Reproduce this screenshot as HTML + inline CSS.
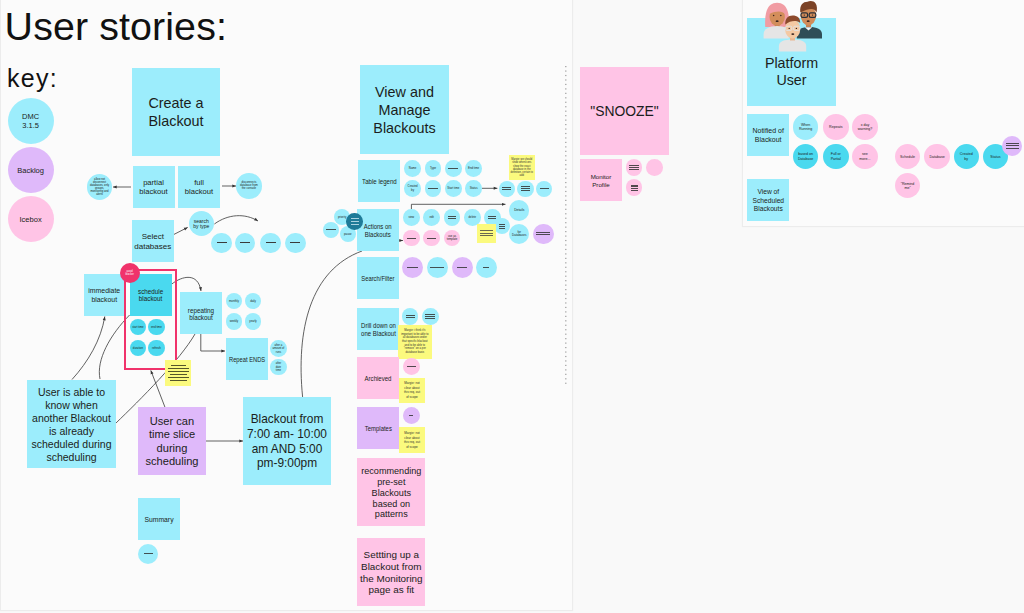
<!DOCTYPE html>
<html><head><meta charset="utf-8"><style>
html,body{margin:0;padding:0;}
body{width:1024px;height:613px;overflow:hidden;position:relative;background:#f9f9f9;font-family:"Liberation Sans",sans-serif;color:#1b1d20;}
.b span{display:inline-block;}
.b{position:absolute;display:flex;align-items:center;justify-content:center;text-align:center;overflow:visible;white-space:nowrap;}
.c{border-radius:50%;}
.d{position:absolute;}
.t{position:absolute;white-space:nowrap;color:#111;}
.fr{position:absolute;background:#fbfbfb;box-sizing:border-box;border:1px solid #ececec;box-shadow:0 0 1px #eeeeee;}
</style></head><body>
<div class="fr" style="left:0px;top:-10px;width:573px;height:621px"></div>
<div class="fr" style="left:742px;top:-10px;width:300px;height:237px"></div>
<svg class="d" style="left:0;top:0" width="1024" height="613" viewBox="0 0 1024 613">
<defs><marker id="ah" markerWidth="6" markerHeight="6" refX="4" refY="3" orient="auto" markerUnits="userSpaceOnUse"><path d="M0.3 1.5L4 3L0.3 4.5z" fill="#333"/></marker></defs>
<g fill="none" stroke="#444" stroke-width="0.85">
<path d="M131 187H113" marker-end="url(#ah)"/>
<path d="M222 186H236" marker-end="url(#ah)"/>
<path d="M173.4 234.7L187.7 227.4" marker-end="url(#ah)"/>
<path d="M214.4 224C228 214 245 213 258 221" marker-end="url(#ah)"/>
<path d="M171.8 284C182 276 198 272 201 291" marker-end="url(#ah)"/>
<path d="M200.8 334V351H225" marker-end="url(#ah)"/>
<path d="M72 379.5C88 362 101 340 104.8 316.5" marker-end="url(#ah)"/>
<path d="M100 379C96 360 110 335 129.6 315"/>
<path d="M116 423C140 400 180 360 195 334"/>
<path d="M164.9 407L150.8 370.4" marker-end="url(#ah)"/>
<path d="M206 441H243" marker-end="url(#ah)"/>
<path d="M302.6 397C296 330 310 270 362 251"/>
<path d="M399.5 240.5L403 240.5" marker-end="url(#ah)"/>
<path d="M411.4 209V204.3H505.5" marker-end="url(#ah)"/>
<path d="M482 188.3H497.4" marker-end="url(#ah)"/>
</g>
<g fill="#9a9a9a"><rect x="565.2" y="66.00" width="1.2" height="1.2"/><rect x="565.2" y="70.46" width="1.2" height="1.2"/><rect x="565.2" y="74.92" width="1.2" height="1.2"/><rect x="565.2" y="79.38" width="1.2" height="1.2"/><rect x="565.2" y="83.84" width="1.2" height="1.2"/><rect x="565.2" y="88.30" width="1.2" height="1.2"/><rect x="565.2" y="92.76" width="1.2" height="1.2"/><rect x="565.2" y="97.22" width="1.2" height="1.2"/><rect x="565.2" y="101.68" width="1.2" height="1.2"/><rect x="565.2" y="106.14" width="1.2" height="1.2"/><rect x="565.2" y="110.60" width="1.2" height="1.2"/><rect x="565.2" y="115.06" width="1.2" height="1.2"/><rect x="565.2" y="119.52" width="1.2" height="1.2"/><rect x="565.2" y="123.98" width="1.2" height="1.2"/><rect x="565.2" y="128.44" width="1.2" height="1.2"/><rect x="565.2" y="132.90" width="1.2" height="1.2"/><rect x="565.2" y="137.36" width="1.2" height="1.2"/><rect x="565.2" y="141.82" width="1.2" height="1.2"/><rect x="565.2" y="146.28" width="1.2" height="1.2"/><rect x="565.2" y="150.74" width="1.2" height="1.2"/><rect x="565.2" y="155.20" width="1.2" height="1.2"/><rect x="565.2" y="159.66" width="1.2" height="1.2"/><rect x="565.2" y="164.12" width="1.2" height="1.2"/><rect x="565.2" y="168.58" width="1.2" height="1.2"/><rect x="565.2" y="173.04" width="1.2" height="1.2"/><rect x="565.2" y="177.50" width="1.2" height="1.2"/><rect x="565.2" y="181.96" width="1.2" height="1.2"/><rect x="565.2" y="186.42" width="1.2" height="1.2"/><rect x="565.2" y="190.88" width="1.2" height="1.2"/><rect x="565.2" y="195.34" width="1.2" height="1.2"/><rect x="565.2" y="199.80" width="1.2" height="1.2"/><rect x="565.2" y="204.26" width="1.2" height="1.2"/><rect x="565.2" y="208.72" width="1.2" height="1.2"/><rect x="565.2" y="213.18" width="1.2" height="1.2"/><rect x="565.2" y="217.64" width="1.2" height="1.2"/><rect x="565.2" y="222.10" width="1.2" height="1.2"/><rect x="565.2" y="226.56" width="1.2" height="1.2"/><rect x="565.2" y="231.02" width="1.2" height="1.2"/><rect x="565.2" y="235.48" width="1.2" height="1.2"/><rect x="565.2" y="239.94" width="1.2" height="1.2"/><rect x="565.2" y="244.40" width="1.2" height="1.2"/><rect x="565.2" y="248.86" width="1.2" height="1.2"/><rect x="565.2" y="253.32" width="1.2" height="1.2"/><rect x="565.2" y="257.78" width="1.2" height="1.2"/><rect x="565.2" y="262.24" width="1.2" height="1.2"/><rect x="565.2" y="266.70" width="1.2" height="1.2"/><rect x="565.2" y="271.16" width="1.2" height="1.2"/><rect x="565.2" y="275.62" width="1.2" height="1.2"/><rect x="565.2" y="280.08" width="1.2" height="1.2"/><rect x="565.2" y="284.54" width="1.2" height="1.2"/><rect x="565.2" y="289.00" width="1.2" height="1.2"/><rect x="565.2" y="293.46" width="1.2" height="1.2"/><rect x="565.2" y="297.92" width="1.2" height="1.2"/><rect x="565.2" y="302.38" width="1.2" height="1.2"/><rect x="565.2" y="306.84" width="1.2" height="1.2"/><rect x="565.2" y="311.30" width="1.2" height="1.2"/><rect x="565.2" y="315.76" width="1.2" height="1.2"/><rect x="565.2" y="320.22" width="1.2" height="1.2"/><rect x="565.2" y="324.68" width="1.2" height="1.2"/><rect x="565.2" y="329.14" width="1.2" height="1.2"/><rect x="565.2" y="333.60" width="1.2" height="1.2"/><rect x="565.2" y="338.06" width="1.2" height="1.2"/><rect x="565.2" y="342.52" width="1.2" height="1.2"/><rect x="565.2" y="346.98" width="1.2" height="1.2"/><rect x="565.2" y="351.44" width="1.2" height="1.2"/><rect x="565.2" y="355.90" width="1.2" height="1.2"/><rect x="565.2" y="360.36" width="1.2" height="1.2"/><rect x="565.2" y="364.82" width="1.2" height="1.2"/><rect x="565.2" y="369.28" width="1.2" height="1.2"/><rect x="565.2" y="373.74" width="1.2" height="1.2"/><rect x="565.2" y="378.20" width="1.2" height="1.2"/><rect x="565.2" y="382.66" width="1.2" height="1.2"/></g>
</svg>
<div class="t" style="left:4.6px;top:3px;font-size:39.4px;line-height:46px;letter-spacing:0.1px">User stories:</div><div class="t" style="left:7px;top:63.5px;font-size:25px;line-height:28px;letter-spacing:1.3px">key:</div><div class="b c" style="left:7.6px;top:97.7px;width:46px;height:46px;background:#9cedfc;font-size:7.5px;line-height:9px;"><span style="position:relative;top:0.75px">DMC<br>3.1.5</span></div><div class="b c" style="left:7.6px;top:146.7px;width:46px;height:46px;background:#dfb9fa;font-size:7.5px;line-height:9.0px;"><span style="position:relative;top:0.75px">Backlog</span></div><div class="b c" style="left:7.6px;top:196.2px;width:46px;height:46px;background:#ffc4e6;font-size:7.5px;line-height:9.0px;"><span style="position:relative;top:0.75px">Icebox</span></div><div class="b" style="left:132px;top:68px;width:88px;height:88px;background:#9cedfc;font-size:14.4px;line-height:17.5px;"><span style="position:relative;top:0.5px;">Create a<br>Blackout</span></div><div class="b" style="left:132.5px;top:166px;width:42px;height:42px;background:#9cedfc;font-size:7.6px;line-height:8.7px;"><span style="position:relative;top:0.8px;">partial<br>blackout</span></div><div class="b" style="left:178px;top:166px;width:42px;height:42px;background:#9cedfc;font-size:7.6px;line-height:8.7px;"><span style="position:relative;top:0.8px;">full<br>blackout</span></div><div class="b c" style="left:86.8px;top:174.1px;width:25.5px;height:25.5px;background:#9cedfc;font-size:2.75px;line-height:3.05px;"><span style="position:relative;top:0.00px">allow not<br>disconnect<br>databases, only<br>groups,<br>monitoring and<br>alerts</span></div><div class="b c" style="left:236.2px;top:173.2px;width:25.5px;height:25.5px;background:#9cedfc;font-size:2.8px;line-height:3.0px;"><span style="position:relative;top:0.00px">disconnects<br>database from<br>the console</span></div><div class="b" style="left:132px;top:220px;width:41.5px;height:41.5px;background:#9cedfc;font-size:8.0px;line-height:9.6px;"><span style="position:relative;top:0.8px;">Select<br>databases</span></div><div class="b c" style="left:188.8px;top:211.1px;width:25px;height:25px;background:#9cedfc;font-size:5px;line-height:5.5px;"><span style="position:relative;top:0.50px">search<br>by type</span></div><div class="b c" style="left:211.4px;top:232.8px;width:20.5px;height:20.5px;background:#9cedfc;font-size:3px;line-height:3.5999999999999996px;"><span style="position:relative;top:0.30px"></span></div><div class="d" style="left:217px;top:242px;width:10px;height:1px;background:#3a3a3a;opacity:1.1"></div><div class="b c" style="left:234.8px;top:232.8px;width:20.5px;height:20.5px;background:#9cedfc;font-size:3px;line-height:3.5999999999999996px;"><span style="position:relative;top:0.30px"></span></div><div class="d" style="left:240px;top:242px;width:10px;height:1px;background:#3a3a3a;opacity:1.1"></div><div class="b c" style="left:260.4px;top:232.8px;width:20.5px;height:20.5px;background:#9cedfc;font-size:3px;line-height:3.5999999999999996px;"><span style="position:relative;top:0.30px"></span></div><div class="d" style="left:266px;top:242px;width:10px;height:1px;background:#3a3a3a;opacity:1.1"></div><div class="b c" style="left:285.2px;top:232.8px;width:20.5px;height:20.5px;background:#9cedfc;font-size:3px;line-height:3.5999999999999996px;"><span style="position:relative;top:0.30px"></span></div><div class="d" style="left:290px;top:242px;width:10px;height:1px;background:#3a3a3a;opacity:1.1"></div><div class="b" style="left:84px;top:274px;width:40.5px;height:41.5px;background:#9cedfc;font-size:6.9px;line-height:8.3px;"><span style="position:relative;top:0.8px;">immediate<br>blackout</span></div><div class="d" style="left:124.3px;top:268.5px;width:52.4px;height:101px;box-sizing:border-box;border:2px solid #f0336b"></div><div class="b" style="left:129.6px;top:273.6px;width:42px;height:42px;background:#4ad9ef;font-size:6.3px;line-height:7.2px;"><span style="position:relative;top:0.8px;">schedule<br>blackout</span></div><div class="b c" style="left:129.7px;top:319.1px;width:16.4px;height:16.4px;background:#4ad9ef;font-size:2.8px;line-height:3.36px;"><span style="position:relative;top:0.28px">start time</span></div><div class="b c" style="left:148.2px;top:319.1px;width:16.4px;height:16.4px;background:#4ad9ef;font-size:2.8px;line-height:3.36px;"><span style="position:relative;top:0.28px">end time</span></div><div class="b c" style="left:129.7px;top:339.8px;width:16.4px;height:16.4px;background:#4ad9ef;font-size:2.8px;line-height:3.36px;"><span style="position:relative;top:0.28px">duration</span></div><div class="b c" style="left:148.2px;top:339.8px;width:16.4px;height:16.4px;background:#4ad9ef;font-size:2.8px;line-height:3.36px;"><span style="position:relative;top:0.28px">refresh</span></div><div class="b c" style="left:119.6px;top:263.0px;width:20px;height:20px;background:#f0336b;font-size:2.6px;line-height:3px;color:#fff;"><span style="position:relative;top:0.26px">avoid<br>blocker</span></div><div class="b" style="left:180px;top:292px;width:42px;height:42px;background:#9cedfc;font-size:6.3px;line-height:7.3px;"><span style="position:relative;top:0.8px;">repeating<br>blackout</span></div><div class="b c" style="left:225.6px;top:292.6px;width:16.7px;height:16.7px;background:#9cedfc;font-size:2.8px;line-height:3.36px;"><span style="position:relative;top:0.28px">monthly</span></div><div class="b c" style="left:244.7px;top:292.6px;width:16.7px;height:16.7px;background:#9cedfc;font-size:2.8px;line-height:3.36px;"><span style="position:relative;top:0.28px">daily</span></div><div class="b c" style="left:225.6px;top:312.9px;width:16.7px;height:16.7px;background:#9cedfc;font-size:2.8px;line-height:3.36px;"><span style="position:relative;top:0.28px">weekly</span></div><div class="b c" style="left:244.7px;top:312.9px;width:16.7px;height:16.7px;background:#9cedfc;font-size:2.8px;line-height:3.36px;"><span style="position:relative;top:0.28px">yearly</span></div><div class="b" style="left:225.8px;top:338px;width:42px;height:42px;background:#9cedfc;font-size:6.4px;line-height:7.5px;"><span style="position:relative;top:0.8px;transform:scaleX(0.9)">Repeat ENDS</span></div><div class="b c" style="left:270.1px;top:340.3px;width:16.6px;height:16.6px;background:#9cedfc;font-size:2.7px;line-height:3.3px;"><span style="position:relative;top:0.27px">after a<br>amount of<br>runs</span></div><div class="b c" style="left:270.1px;top:358.8px;width:16.6px;height:16.6px;background:#9cedfc;font-size:2.7px;line-height:3.3px;"><span style="position:relative;top:0.27px">after<br>date<br>time</span></div><div class="d" style="left:165px;top:360px;width:25.5px;height:25.5px;background:#fbfa7e"></div><div class="d" style="left:170.5px;top:365.30px;width:15px;height:0.8px;background:#55552a"></div><div class="d" style="left:167.5px;top:368.25px;width:21px;height:0.8px;background:#55552a"></div><div class="d" style="left:167.5px;top:371.20px;width:21px;height:0.8px;background:#55552a"></div><div class="d" style="left:169.5px;top:374.15px;width:17px;height:0.8px;background:#55552a"></div><div class="d" style="left:167.5px;top:377.10px;width:21px;height:0.8px;background:#55552a"></div><div class="d" style="left:169.5px;top:380.05px;width:17px;height:0.8px;background:#55552a"></div><div class="b" style="left:27px;top:380px;width:89px;height:88px;background:#9cedfc;font-size:10.5px;line-height:12.86px;"><span style="position:relative;top:0.8px;">User is able to<br>know when<br>another Blackout<br>is already<br>scheduled during<br>scheduling</span></div><div class="b" style="left:138px;top:407px;width:68px;height:68px;background:#dfb9fa;font-size:11.1px;line-height:13.5px;"><span style="position:relative;top:0.8px;">User can<br>time slice<br>during<br>scheduling</span></div><div class="b" style="left:243px;top:397px;width:88px;height:88px;background:#9cedfc;font-size:11.9px;line-height:14.67px;"><span style="position:relative;top:0.8px;">Blackout from<br>7:00 am- 10:00<br>am AND 5:00<br>pm-9:00pm</span></div><div class="b" style="left:138px;top:498px;width:42px;height:42px;background:#9cedfc;font-size:6.8px;line-height:8.16px;"><span style="position:relative;top:0.8px;">Summary</span></div><div class="b c" style="left:138.0px;top:543.7px;width:20px;height:20px;background:#9cedfc;font-size:3px;line-height:3.5999999999999996px;"><span style="position:relative;top:0.30px"></span></div><div class="d" style="left:144px;top:553px;width:9px;height:1px;background:#333333;opacity:0.85"></div><div class="b" style="left:360px;top:65px;width:89px;height:89px;background:#9cedfc;font-size:14.4px;line-height:18px;"><span style="position:relative;top:0.2px;">View and<br>Manage<br>Blackouts</span></div><div class="b" style="left:358.4px;top:160px;width:42px;height:42px;background:#9cedfc;font-size:6.5px;line-height:7.5px;"><span style="position:relative;top:0.8px;transform:scaleX(0.94)">Table legend</span></div><div class="b c" style="left:404.3px;top:160.0px;width:16.6px;height:16.6px;background:#9cedfc;font-size:2.8px;line-height:3.36px;"><span style="position:relative;top:0.28px">Name</span></div><div class="b c" style="left:424.7px;top:160.0px;width:16.6px;height:16.6px;background:#9cedfc;font-size:2.8px;line-height:3.36px;"><span style="position:relative;top:0.28px">Type</span></div><div class="b c" style="left:445.0px;top:160.0px;width:16.6px;height:16.6px;background:#9cedfc;font-size:2.8px;line-height:3.36px;"><span style="position:relative;top:0.28px"></span></div><div class="d" style="left:448px;top:168px;width:10px;height:1px;background:#333333;opacity:0.85"></div><div class="b c" style="left:465.3px;top:160.0px;width:16.6px;height:16.6px;background:#9cedfc;font-size:2.8px;line-height:3.36px;"><span style="position:relative;top:0.28px">End time</span></div><div class="b c" style="left:404.3px;top:180.0px;width:16.6px;height:16.6px;background:#9cedfc;font-size:2.8px;line-height:3.36px;"><span style="position:relative;top:0.28px">Created<br>by</span></div><div class="b c" style="left:424.7px;top:180.0px;width:16.6px;height:16.6px;background:#9cedfc;font-size:2.8px;line-height:3.36px;"><span style="position:relative;top:0.28px"></span></div><div class="d" style="left:428px;top:188px;width:10px;height:1px;background:#333333;opacity:0.85"></div><div class="b c" style="left:445.0px;top:180.0px;width:16.6px;height:16.6px;background:#9cedfc;font-size:2.8px;line-height:3.36px;"><span style="position:relative;top:0.28px">Start time</span></div><div class="b c" style="left:465.3px;top:180.0px;width:16.6px;height:16.6px;background:#9cedfc;font-size:2.8px;line-height:3.36px;"><span style="position:relative;top:0.28px">Status</span></div><div class="b c" style="left:498.8px;top:180.6px;width:16.5px;height:16.5px;background:#9cedfc;font-size:3px;line-height:3.5999999999999996px;"><span style="position:relative;top:0.30px"></span></div><div class="d" style="left:502px;top:187px;width:9px;height:1px;background:#333333;opacity:0.85"></div><div class="d" style="left:502px;top:189px;width:9px;height:1px;background:#333333;opacity:0.85"></div><div class="b c" style="left:517.4px;top:180.6px;width:16.5px;height:16.5px;background:#9cedfc;font-size:3px;line-height:3.5999999999999996px;"><span style="position:relative;top:0.30px"></span></div><div class="d" style="left:521px;top:186px;width:9px;height:1px;background:#333333;opacity:0.85"></div><div class="d" style="left:521px;top:188px;width:9px;height:1px;background:#333333;opacity:0.85"></div><div class="d" style="left:521px;top:190px;width:9px;height:1px;background:#333333;opacity:0.85"></div><div class="b c" style="left:535.9px;top:180.6px;width:16.5px;height:16.5px;background:#9cedfc;font-size:3px;line-height:3.5999999999999996px;"><span style="position:relative;top:0.30px"></span></div><div class="d" style="left:540px;top:188px;width:9px;height:1px;background:#333333;opacity:0.85"></div><div class="b" style="left:509px;top:155.3px;width:25.5px;height:25px;background:#fbfa7e;font-size:2.6px;line-height:3.25px;color:#333"><span>Margie: we should<br>show when/cons<br>show the exact<br>database in the<br>definition, certain to<br>add</span></div><div class="b" style="left:357.2px;top:209px;width:42px;height:42px;background:#9cedfc;font-size:6.3px;line-height:7.6px;"><span style="position:relative;top:0.8px;transform:scaleX(0.95)">Actions on<br>Blackouts</span></div><div class="b c" style="left:403.1px;top:209.3px;width:16.5px;height:16.5px;background:#9cedfc;font-size:2.8px;line-height:3.36px;"><span style="position:relative;top:0.28px">view</span></div><div class="b c" style="left:423.4px;top:209.3px;width:16.5px;height:16.5px;background:#9cedfc;font-size:2.8px;line-height:3.36px;"><span style="position:relative;top:0.28px">edit</span></div><div class="b c" style="left:443.8px;top:209.3px;width:16.5px;height:16.5px;background:#9cedfc;font-size:2.8px;line-height:3.36px;"><span style="position:relative;top:0.28px"></span></div><div class="d" style="left:448px;top:216px;width:8px;height:1px;background:#333333;opacity:0.85"></div><div class="d" style="left:448px;top:218px;width:8px;height:1px;background:#333333;opacity:0.85"></div><div class="b c" style="left:464.1px;top:209.3px;width:16.5px;height:16.5px;background:#9cedfc;font-size:2.8px;line-height:3.36px;"><span style="position:relative;top:0.28px">delete</span></div><div class="b c" style="left:484.4px;top:209.3px;width:16.5px;height:16.5px;background:#9cedfc;font-size:2.8px;line-height:3.36px;"><span style="position:relative;top:0.28px"></span></div><div class="d" style="left:488px;top:216px;width:8px;height:1px;background:#333333;opacity:0.85"></div><div class="d" style="left:488px;top:218px;width:8px;height:1px;background:#333333;opacity:0.85"></div><div class="b c" style="left:493.9px;top:218.2px;width:16px;height:16px;background:#9cedfc;font-size:3px;line-height:3.5999999999999996px;"><span style="position:relative;top:0.30px"></span></div><div class="d" style="left:499px;top:224px;width:6px;height:1px;background:#333333;opacity:0.85"></div><div class="d" style="left:499px;top:226px;width:6px;height:1px;background:#333333;opacity:0.85"></div><div class="d" style="left:499px;top:228px;width:6px;height:1px;background:#333333;opacity:0.85"></div><div class="b c" style="left:403.1px;top:229.8px;width:16.5px;height:16.5px;background:#ffc4e6;font-size:2.8px;line-height:3.36px;"><span style="position:relative;top:0.28px"></span></div><div class="d" style="left:407px;top:238px;width:9px;height:1px;background:#333333;opacity:0.85"></div><div class="b c" style="left:423.4px;top:229.8px;width:16.5px;height:16.5px;background:#ffc4e6;font-size:2.8px;line-height:3.36px;"><span style="position:relative;top:0.28px"></span></div><div class="d" style="left:427px;top:238px;width:9px;height:1px;background:#333333;opacity:0.85"></div><div class="b c" style="left:443.8px;top:229.8px;width:16.5px;height:16.5px;background:#ffc4e6;font-size:2.8px;line-height:3.36px;"><span style="position:relative;top:0.28px">use as<br>template</span></div><div class="d" style="left:477.2px;top:223.8px;width:19px;height:19px;background:#fbfa7e"></div><div class="d" style="left:480px;top:230px;width:13px;height:1px;background:#444;opacity:0.8"></div><div class="d" style="left:480px;top:233px;width:13px;height:1px;background:#444;opacity:0.8"></div><div class="d" style="left:480px;top:235px;width:13px;height:1px;background:#444;opacity:0.8"></div><div class="b c" style="left:509.1px;top:200.3px;width:20.3px;height:20.3px;background:#9cedfc;font-size:3.3px;line-height:3.9599999999999995px;"><span style="position:relative;top:0.33px">Details</span></div><div class="b c" style="left:509.1px;top:223.8px;width:20.3px;height:20.3px;background:#9cedfc;font-size:3px;line-height:3.6px;"><span style="position:relative;top:0.30px">for<br>Databases</span></div><div class="b c" style="left:533.0px;top:223.7px;width:20.5px;height:20.5px;background:#dfb9fa;font-size:3px;line-height:3.5999999999999996px;"><span style="position:relative;top:0.30px"></span></div><div class="d" style="left:536px;top:232px;width:14px;height:1px;background:#333333;opacity:0.85"></div><div class="d" style="left:536px;top:234px;width:14px;height:1px;background:#333333;opacity:0.85"></div><div class="b c" style="left:334.0px;top:208.8px;width:16.3px;height:16.3px;background:#9cedfc;font-size:2.8px;line-height:3.36px;"><span style="position:relative;top:0.28px">priority</span></div><div class="b c" style="left:323.2px;top:221.8px;width:16.3px;height:16.3px;background:#9cedfc;font-size:3px;line-height:3.5999999999999996px;"><span style="position:relative;top:0.30px"></span></div><div class="d" style="left:326px;top:229px;width:10px;height:1px;background:#333333;opacity:0.85"></div><div class="b c" style="left:339.7px;top:225.8px;width:16.3px;height:16.3px;background:#9cedfc;font-size:2.8px;line-height:3.36px;"><span style="position:relative;top:0.28px">pause</span></div><div class="b c" style="left:346.3px;top:213.2px;width:16.6px;height:16.6px;background:#1f7b98;font-size:3px;line-height:3.5999999999999996px;"><span style="position:relative;top:0.30px"></span></div><div class="d" style="left:351px;top:218px;width:8px;height:1px;background:#b9dde8;opacity:0.9"></div><div class="d" style="left:351px;top:221px;width:8px;height:1px;background:#b9dde8;opacity:0.9"></div><div class="d" style="left:351px;top:224px;width:8px;height:1px;background:#b9dde8;opacity:0.9"></div><div class="b" style="left:357.3px;top:257.2px;width:42px;height:41.6px;background:#9cedfc;font-size:6.3px;line-height:7.5px;"><span style="position:relative;top:0.8px;transform:scaleX(0.93)">Search/Filter</span></div><div class="b c" style="left:401.8px;top:257.3px;width:21px;height:21px;background:#dfb9fa;font-size:3px;line-height:3.5999999999999996px;"><span style="position:relative;top:0.30px"></span></div><div class="d" style="left:407px;top:267px;width:11px;height:1px;background:#333333;opacity:0.85"></div><div class="b c" style="left:426.7px;top:257.3px;width:21px;height:21px;background:#9cedfc;font-size:3px;line-height:3.5999999999999996px;"><span style="position:relative;top:0.30px"></span></div><div class="d" style="left:430px;top:267px;width:14px;height:1px;background:#333333;opacity:0.85"></div><div class="b c" style="left:451.5px;top:257.3px;width:21px;height:21px;background:#dfb9fa;font-size:3px;line-height:3.5999999999999996px;"><span style="position:relative;top:0.30px"></span></div><div class="d" style="left:457px;top:267px;width:10px;height:1px;background:#333333;opacity:0.85"></div><div class="b c" style="left:475.7px;top:257.3px;width:21px;height:21px;background:#9cedfc;font-size:3px;line-height:3.5999999999999996px;"><span style="position:relative;top:0.30px"></span></div><div class="d" style="left:483px;top:267px;width:6px;height:1px;background:#333333;opacity:0.85"></div><div class="b" style="left:357px;top:307.8px;width:42px;height:42px;background:#9cedfc;font-size:6.4px;line-height:7.6px;"><span style="position:relative;top:0.8px;transform:scaleX(0.94)">Drill down on<br>one Blackout</span></div><div class="b c" style="left:401.7px;top:308.1px;width:16.6px;height:16.6px;background:#9cedfc;font-size:3px;line-height:3.5999999999999996px;"><span style="position:relative;top:0.30px"></span></div><div class="d" style="left:406px;top:315px;width:9px;height:1px;background:#333333;opacity:0.85"></div><div class="d" style="left:406px;top:317px;width:9px;height:1px;background:#333333;opacity:0.85"></div><div class="b c" style="left:422.1px;top:308.1px;width:16.6px;height:16.6px;background:#9cedfc;font-size:3px;line-height:3.5999999999999996px;"><span style="position:relative;top:0.30px"></span></div><div class="d" style="left:425px;top:314px;width:10px;height:1px;background:#333333;opacity:0.85"></div><div class="d" style="left:425px;top:316px;width:10px;height:1px;background:#333333;opacity:0.85"></div><div class="d" style="left:425px;top:318px;width:10px;height:1px;background:#333333;opacity:0.85"></div><div class="b" style="left:398px;top:324.8px;width:33.7px;height:34px;background:#fbfa7e;font-size:2.75px;line-height:3.7px;color:#333"><span>Margie: i think it's<br>important to be able to<br>all databases under<br>that specific blackout<br>and to be able to<br>"remove" on a per<br>database basis</span></div><div class="b" style="left:357px;top:357.4px;width:42px;height:42px;background:#ffc4e6;font-size:6.3px;line-height:7.5px;"><span style="position:relative;top:0.8px;transform:scaleX(0.96)">Archieved</span></div><div class="b c" style="left:402.9px;top:357.5px;width:17px;height:17px;background:#ffc4e6;font-size:3px;line-height:3.5999999999999996px;"><span style="position:relative;top:0.30px"></span></div><div class="d" style="left:407px;top:366px;width:9px;height:1px;background:#333333;opacity:0.85"></div><div class="b" style="left:399px;top:377.5px;width:26px;height:25.6px;background:#fbfa7e;font-size:3.1px;line-height:4.5px;color:#333"><span>Margie: not<br>clear about<br>this req, out<br>of scope</span></div><div class="b" style="left:357px;top:407px;width:42px;height:42px;background:#dfb9fa;font-size:6.3px;line-height:7.5px;"><span style="position:relative;top:0.8px;transform:scaleX(0.94)">Templates</span></div><div class="b c" style="left:402.9px;top:407.2px;width:17px;height:17px;background:#dfb9fa;font-size:3px;line-height:3.5999999999999996px;"><span style="position:relative;top:0.30px"></span></div><div class="d" style="left:409px;top:415px;width:4px;height:1px;background:#333333;opacity:0.85"></div><div class="b" style="left:399px;top:427.4px;width:26px;height:25.3px;background:#fbfa7e;font-size:3.1px;line-height:4.5px;color:#333"><span>Margie: not<br>clear about<br>this req, out<br>of scope</span></div><div class="b" style="left:357.3px;top:458.4px;width:68px;height:68px;background:#ffc4e6;font-size:9.1px;line-height:10.75px;"><span style="position:relative;top:0.8px;">recommending<br>pre-set<br>Blackouts<br>based on<br>patterns</span></div><div class="b" style="left:357.3px;top:538px;width:68px;height:67.6px;background:#ffc4e6;font-size:9.9px;line-height:11.77px;"><span style="position:relative;top:0.8px;">Settting up a<br>Blackout from<br>the Monitoring<br>page as fit</span></div><div class="b" style="left:580px;top:67px;width:89px;height:88px;background:#ffc4e6;font-size:13.9px;line-height:16.68px;"><span style="position:relative;top:0.5px;">"SNOOZE"</span></div><div class="b" style="left:580px;top:159px;width:42px;height:42px;background:#ffc4e6;font-size:6.2px;line-height:7.5px;"><span style="position:relative;top:0.8px;">Monitor<br>Profile</span></div><div class="b c" style="left:625.8px;top:159.2px;width:16.7px;height:16.7px;background:#ffc4e6;font-size:3px;line-height:3.5999999999999996px;"><span style="position:relative;top:0.30px"></span></div><div class="d" style="left:629px;top:165px;width:10px;height:1px;background:#333333;opacity:0.85"></div><div class="d" style="left:629px;top:167px;width:10px;height:1px;background:#333333;opacity:0.85"></div><div class="d" style="left:629px;top:169px;width:10px;height:1px;background:#333333;opacity:0.85"></div><div class="b c" style="left:645.9px;top:159.2px;width:16.7px;height:16.7px;background:#ffc4e6;font-size:3px;line-height:3.5999999999999996px;"><span style="position:relative;top:0.30px"></span></div><div class="b c" style="left:625.8px;top:179.2px;width:16.7px;height:16.7px;background:#ffc4e6;font-size:3px;line-height:3.5999999999999996px;"><span style="position:relative;top:0.30px"></span></div><div class="d" style="left:631px;top:185px;width:7px;height:1px;background:#333333;opacity:0.85"></div><div class="d" style="left:631px;top:186px;width:7px;height:1px;background:#333333;opacity:0.85"></div><div class="d" style="left:631px;top:188px;width:7px;height:1px;background:#333333;opacity:0.85"></div><div class="d" style="left:631px;top:190px;width:7px;height:1px;background:#333333;opacity:0.85"></div><div class="b" style="left:747px;top:17.6px;width:89px;height:88px;background:#9cedfc;font-size:14.3px;line-height:17.4px;padding-top:21px;box-sizing:border-box;"><span style="position:relative;top:0px;">Platform<br>User</span></div><svg class="d" style="left:760px;top:0px" width="65" height="55" viewBox="0 0 65 55">
<path d="M5.2 27C4.6 14 6.5 2.7 17.1 2.7S29.6 14 29.1 27Z" fill="#f19ca3"/>
<rect x="14.8" y="22" width="4.8" height="6" fill="#c98352"/>
<path d="M3.6 38.6V34C3.6 29 9 26 17.1 26S28.7 29 28.7 34V38.6Z" fill="#e5e5e5"/>
<ellipse cx="17.2" cy="17" rx="7.7" ry="8.8" fill="#d38e5b"/>
<path d="M9.2 14C9.6 8.5 12.5 5.8 17.2 5.8S24.8 8.5 25.2 14C22 11 17 10.5 9.2 14Z" fill="#f19ca3"/>
<circle cx="13.6" cy="15.4" r="0.75" fill="#3a2620"/><circle cx="20.8" cy="15.4" r="0.75" fill="#3a2620"/>
<ellipse cx="17.1" cy="21.2" rx="1.5" ry="0.9" fill="#3a2620"/>
<rect x="46" y="22" width="5" height="6" fill="#c98352"/>
<path d="M36.8 38.6V34C36.8 29.5 42 27 49.4 27S62 29.5 62 34V38.6Z" fill="#2f4e57"/>
<path d="M44.8 27.2L48.5 30.6L52.2 27.2Z" fill="#f4f4f4"/>
<ellipse cx="48.4" cy="15.6" rx="7.7" ry="9.6" fill="#d08c5a"/>
<path d="M40.3 12.5C39.5 5 43 1.8 47.5 1.8C49.5 0.5 54 0.6 55.5 3.2C57.3 5.5 57.2 9.5 56.5 12.5C55 8.5 51 7 40.3 12.5Z" fill="#7b4226"/>
<rect x="41" y="12.8" width="6.6" height="4.6" rx="1.6" fill="none" stroke="#2b2f36" stroke-width="1.2"/>
<rect x="49.2" y="12.8" width="6.6" height="4.6" rx="1.6" fill="none" stroke="#2b2f36" stroke-width="1.2"/>
<circle cx="44.3" cy="15.1" r="0.7" fill="#3a2620"/><circle cx="52.5" cy="15.1" r="0.7" fill="#3a2620"/>
<ellipse cx="48.2" cy="21.2" rx="1.5" ry="0.9" fill="#3a2620"/>
<path d="M18.9 51.6V46C18.9 41.5 24 39.5 32.5 39.5S46.2 41.5 46.2 46V51.6Z" fill="#e5e5e5"/>
<rect x="30" y="36" width="5" height="4.5" fill="#e9b792"/>
<ellipse cx="32.7" cy="29" rx="7.6" ry="9.4" fill="#f4c9a3"/>
<path d="M25.3 24.5C25 18.5 28 15.6 32.6 15.6S40.3 17.8 40.2 23C36.5 20 30.5 20.5 25.3 24.5Z" fill="#8c4a2c"/>
<rect x="25.6" y="26.2" width="6.2" height="4.2" rx="1.2" fill="none" stroke="#e2e2e2" stroke-width="1"/>
<rect x="33.6" y="26.2" width="6.2" height="4.2" rx="1.2" fill="none" stroke="#e2e2e2" stroke-width="1"/>
<circle cx="29.2" cy="28.4" r="0.7" fill="#3a2620"/><circle cx="36.4" cy="28.4" r="0.7" fill="#3a2620"/>
<ellipse cx="32.8" cy="34.1" rx="1.5" ry="0.9" fill="#3a2620"/>
</svg><div class="b" style="left:747px;top:114.2px;width:42px;height:42px;background:#9cedfc;font-size:7.2px;line-height:8.7px;"><span style="position:relative;top:0.8px;transform:scaleX(0.97)">Notified of<br>Blackout</span></div><div class="b" style="left:747px;top:179.4px;width:42px;height:42px;background:#9cedfc;font-size:6.9px;line-height:8.6px;"><span style="position:relative;top:0.8px;transform:scaleX(0.97)">View of<br>Scheduled<br>Blackouts</span></div><div class="b c" style="left:792.9px;top:114.2px;width:25.5px;height:25.5px;background:#9cedfc;font-size:3.6px;line-height:4.4px;"><span style="position:relative;top:0.36px">When<br>Running</span></div><div class="b c" style="left:823.0px;top:114.2px;width:25.5px;height:25.5px;background:#ffc4e6;font-size:3.6px;line-height:4.4px;"><span style="position:relative;top:0.36px">Repeats</span></div><div class="b c" style="left:852.2px;top:114.2px;width:25.5px;height:25.5px;background:#ffc4e6;font-size:3.6px;line-height:4.4px;"><span style="position:relative;top:0.36px">x day<br>warning?</span></div><div class="b c" style="left:792.9px;top:143.7px;width:25.5px;height:25.5px;background:#4ad9ef;font-size:3.6px;line-height:4.4px;"><span style="position:relative;top:0.36px">based on<br>Database</span></div><div class="b c" style="left:823.0px;top:143.7px;width:25.5px;height:25.5px;background:#4ad9ef;font-size:3.6px;line-height:4.4px;"><span style="position:relative;top:0.36px">Full or<br>Partial</span></div><div class="b c" style="left:852.2px;top:143.7px;width:25.5px;height:25.5px;background:#ffc4e6;font-size:3.6px;line-height:4.4px;"><span style="position:relative;top:0.36px">see<br>more...</span></div><div class="b c" style="left:894.8px;top:143.7px;width:25.5px;height:25.5px;background:#ffc4e6;font-size:3.6px;line-height:4.4px;"><span style="position:relative;top:0.36px">Schedule</span></div><div class="b c" style="left:924.4px;top:143.7px;width:25.5px;height:25.5px;background:#ffc4e6;font-size:3.6px;line-height:4.4px;"><span style="position:relative;top:0.36px">Database</span></div><div class="b c" style="left:953.5px;top:143.7px;width:25.5px;height:25.5px;background:#4ad9ef;font-size:3.6px;line-height:4.4px;"><span style="position:relative;top:0.36px">Created<br>by</span></div><div class="b c" style="left:982.6px;top:143.7px;width:25.5px;height:25.5px;background:#4ad9ef;font-size:3.6px;line-height:4.4px;"><span style="position:relative;top:0.36px">Status</span></div><div class="b c" style="left:894.8px;top:172.8px;width:25.5px;height:25.5px;background:#ffc4e6;font-size:3.6px;line-height:4.4px;"><span style="position:relative;top:0.36px">"Remind<br>me"</span></div><div class="b c" style="left:1002.1px;top:135.7px;width:20.2px;height:20.2px;background:#dfb9fa;font-size:3px;line-height:3.5999999999999996px;"><span style="position:relative;top:0.30px"></span></div><div class="d" style="left:1006px;top:143px;width:13px;height:1px;background:#333333;opacity:0.85"></div><div class="d" style="left:1006px;top:145px;width:13px;height:1px;background:#333333;opacity:0.85"></div><div class="d" style="left:1006px;top:148px;width:13px;height:1px;background:#333333;opacity:0.85"></div>
</body></html>
